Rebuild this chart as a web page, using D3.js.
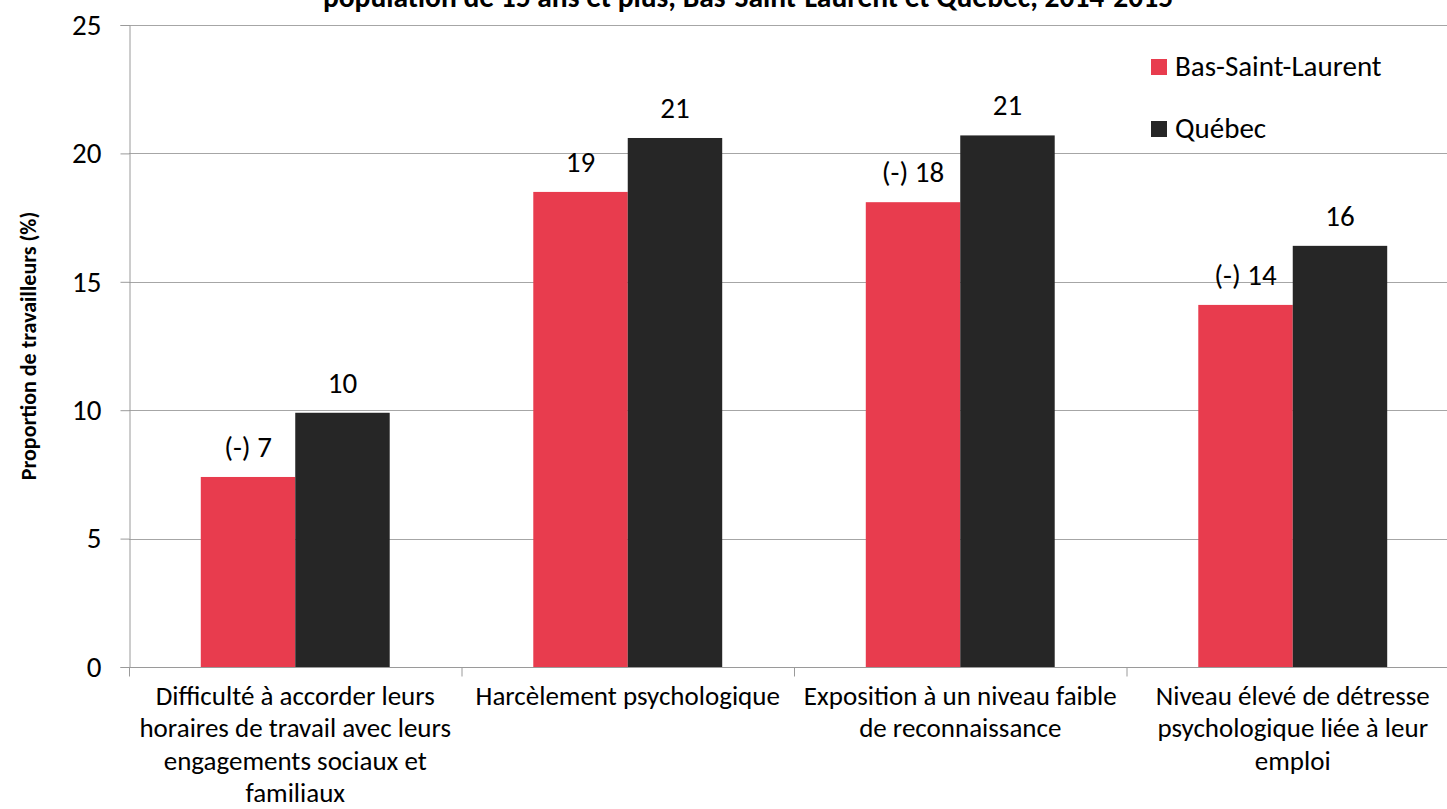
<!DOCTYPE html>
<html>
<head>
<meta charset="utf-8">
<script src="https://cdn.jsdelivr.net/npm/d3@7"></script>
<style>
  body { margin: 0; background: #fff; }
  svg { display: block; font-family: Carlito, Calibri, "Open Sans", sans-serif; }
</style>
</head>
<body>
<div id="chart"></div>
<script>
// Data
const categories = [
  "Difficulté à accorder leurs|horaires de travail avec leurs|engagements sociaux et|familiaux",
  "Harcèlement psychologique",
  "Exposition à un niveau faible|de reconnaissance",
  "Niveau élevé de détresse|psychologique liée à leur|emploi"
];
const seriesNames = ["Bas-Saint-Laurent", "Québec"];
const bslValues = [7.4, 18.5, 18.1, 14.1];
const qcValues = [9.9, 20.6, 20.7, 16.4];
const bslFlags = [true, false, true, true]; // "(-)" significatif
const yTicks = [0, 5, 10, 15, 20, 25];
const colors = ["#e83c4e", "#262626"];

const W = 1447, H = 809;
const plotLeft = 129, plotTop = 25, plotBottom = 667;
const catStep = 332.5;

const svg = d3.select("#chart").append("svg").attr("width", W).attr("height", H);

const x0 = d3.scaleBand()
  .domain(categories)
  .range([plotLeft, plotLeft + catStep * categories.length])
  .padding(0);

const x1 = d3.scaleBand()
  .domain(seriesNames)
  .range([0, x0.bandwidth()])
  .paddingInner(0)
  .paddingOuter(0.76);

const y = d3.scaleLinear().domain([0, 25]).range([plotBottom, plotTop]);

// Gridlines
svg.append("g")
  .selectAll("line")
  .data(yTicks.filter((d) => d > 0))
  .enter()
  .append("line")
  .attr("x1", plotLeft)
  .attr("x2", W)
  .attr("y1", (d) => Math.round(y(d)) + 0.5)
  .attr("y2", (d) => Math.round(y(d)) + 0.5)
  .attr("stroke", "#a6a6a6")
  .attr("stroke-width", 1);

// Y axis
const yAxis = svg.append("g")
  .attr("transform", `translate(${plotLeft + 0.5},0)`)
  .call(d3.axisLeft(y).tickValues(yTicks).tickSize(9).tickPadding(19));
yAxis.selectAll("line, path").attr("stroke", "#9a9a9a");
yAxis.selectAll("text")
  .style("font-size", "29px")
  .style("font-family", 'Carlito, Calibri, "Open Sans", sans-serif')
  .attr("fill", "#000");

// Bars
const rows = categories.map((c, i) => ({ cat: c, vals: [bslValues[i], qcValues[i]], flag: bslFlags[i] }));

const groups = svg.append("g")
  .selectAll("g")
  .data(rows)
  .enter()
  .append("g")
  .attr("transform", (d) => `translate(${x0(d.cat)},0)`);

groups.selectAll("rect")
  .data((d) => d.vals.map((v, j) => ({ key: seriesNames[j], v: v, j: j })))
  .enter()
  .append("rect")
  .attr("x", (d) => x1(d.key))
  .attr("width", x1.bandwidth())
  .attr("y", (d) => y(d.v))
  .attr("height", (d) => plotBottom - y(d.v))
  .attr("fill", (d) => colors[d.j]);

// Data labels
groups.selectAll("text.val")
  .data((d) => d.vals.map((v, j) => ({ key: seriesNames[j], v: v, j: j, flag: j === 0 && d.flag })))
  .enter()
  .append("text")
  .attr("class", "val")
  .attr("x", (d) => x1(d.key) + x1.bandwidth() / 2)
  .attr("y", (d) => y(d.v) - 20)
  .attr("text-anchor", "middle")
  .style("font-size", "29px")
  .attr("fill", "#000")
  .text((d) => (d.flag ? "(-) " : "") + Math.round(d.v));

// X axis
const xAxis = svg.append("g").attr("transform", `translate(0,${plotBottom + 0.5})`);
xAxis.append("line")
  .attr("x1", plotLeft).attr("x2", W)
  .attr("stroke", "#9a9a9a");
xAxis.selectAll("line.tick")
  .data(d3.range(categories.length + 1))
  .enter()
  .append("line")
  .attr("class", "tick")
  .attr("x1", (i) => plotLeft + 0.5 + i * x0.step())
  .attr("x2", (i) => plotLeft + 0.5 + i * x0.step())
  .attr("y1", 0)
  .attr("y2", 9)
  .attr("stroke", "#9a9a9a");

xAxis.selectAll("text")
  .data(categories)
  .enter()
  .append("text")
  .attr("text-anchor", "middle")
  .style("font-size", "27px")
  .attr("fill", "#000")
  .each(function (d) {
    const t = d3.select(this);
    d.split("|").forEach((line, k) => {
      t.append("tspan")
        .attr("x", x0(d) + x0.bandwidth() / 2)
        .attr("y", 37 + k * 32.5)
        .text(line);
    });
  });

// Legend
const legend = svg.append("g")
  .selectAll("g")
  .data(seriesNames)
  .enter()
  .append("g")
  .attr("transform", (d, i) => `translate(1151,${59 + i * 62})`);
legend.append("rect")
  .attr("width", 16)
  .attr("height", 16)
  .attr("fill", (d, i) => colors[i]);
legend.append("text")
  .attr("x", 24)
  .attr("y", 17)
  .style("font-size", "29px")
  .attr("fill", "#000")
  .text((d) => d);

// Y axis title
svg.append("text")
  .attr("transform", "translate(36,346) rotate(-90)")
  .attr("text-anchor", "middle")
  .style("font-size", "22px")
  .style("font-weight", "bold")
  .attr("fill", "#000")
  .text("Proportion de travailleurs (%)");

// Title (cut at top, as in the source image)
svg.append("text")
  .attr("x", 748)
  .attr("y", 7)
  .attr("text-anchor", "middle")
  .style("font-size", "29.5px")
  .style("font-weight", "bold")
  .attr("fill", "#000")
  .text("population de 15 ans et plus, Bas-Saint-Laurent et Québec, 2014-2015");
</script>
</body>
</html>
